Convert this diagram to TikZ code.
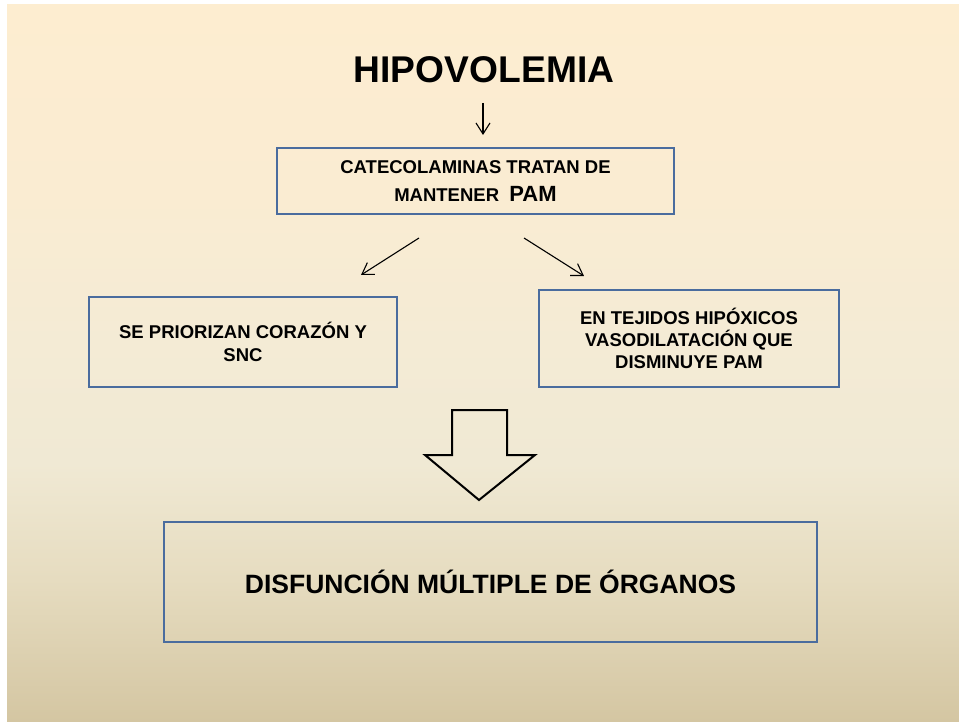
\documentclass[tikz,border=0pt]{standalone}
\usepackage{fontspec}
\setmainfont{Liberation Sans}
\usetikzlibrary{arrows.meta}
\definecolor{boxblue}{RGB}{74,108,158}
\pgfdeclareverticalshading{bgshade}{100bp}{rgb(0bp)=(0.831,0.776,0.635); rgb(25bp)=(0.831,0.776,0.635); rgb(35bp)=(0.902,0.863,0.753); rgb(43bp)=(0.941,0.914,0.831); rgb(51.5bp)=(0.957,0.922,0.835); rgb(61.5bp)=(0.980,0.925,0.824); rgb(75bp)=(0.992,0.929,0.816); rgb(100bp)=(0.992,0.929,0.816)}
\begin{document}
\begin{tikzpicture}[x=1pt,y=-1pt,
  box/.style={draw=boxblue, line width=1.8pt, rectangle, inner sep=0pt, align=center,
    font=\bfseries\fontsize{18.5}{23}\selectfont},
  thinarr/.style={draw=black, line width=1.1pt, -{Straight Barb[length=11pt,width=14pt,line width=1.1pt]}},
  blockarrow/.style={draw=black, line width=2pt, line join=miter}]
\useasboundingbox (0,0) rectangle (959,722);
\fill[white] (0,0) rectangle (959,722);
\shade[shading=bgshade] (7,5) rectangle (959,722);

\node[anchor=base, font=\bfseries\fontsize{37.2}{40}\selectfont, inner sep=0pt] (hipo) at (484,83) {HIPOVOLEMIA};

\node[box, minimum width=397pt, minimum height=66pt] (b1) at (475.5,181)
  {CATECOLAMINAS TRATAN DE\\[5pt] MANTENER\ \ {\fontsize{22}{26}\selectfont PAM}};
\node[box, minimum width=308pt, minimum height=90pt] (b2) at (243,342)
  {SE PRIORIZAN CORAZÓN Y\\SNC};
\node[box, minimum width=300pt, minimum height=97pt, font=\bfseries\fontsize{18.5}{22}\selectfont] (b3) at (689,338.5)
  {EN TEJIDOS HIPÓXICOS\\VASODILATACIÓN QUE\\DISMINUYE PAM};
\node[box, minimum width=653pt, minimum height=120pt, font=\bfseries\fontsize{26.5}{30}\selectfont] (b4) at (490.5,582)
  {DISFUNCIÓN MÚLTIPLE DE ÓRGANOS};

% connectors
\coordinate (d1) at (483,103);
\coordinate (d2) at (483,135);
\draw[thinarr] (d1) -- (d2);
\coordinate (l1) at (419,238);
\coordinate (l2) at (361,275);
\draw[thinarr] (l1) -- (l2);
\coordinate (r1) at (524,238);
\coordinate (r2) at (584,276);
\draw[thinarr] (r1) -- (r2);

% block arrow
\draw[blockarrow] (452,410) -- (507,410) -- (507,455) -- (535,455) -- (479,500) -- (425,455) -- (452,455) -- cycle;
\end{tikzpicture}
\end{document}
